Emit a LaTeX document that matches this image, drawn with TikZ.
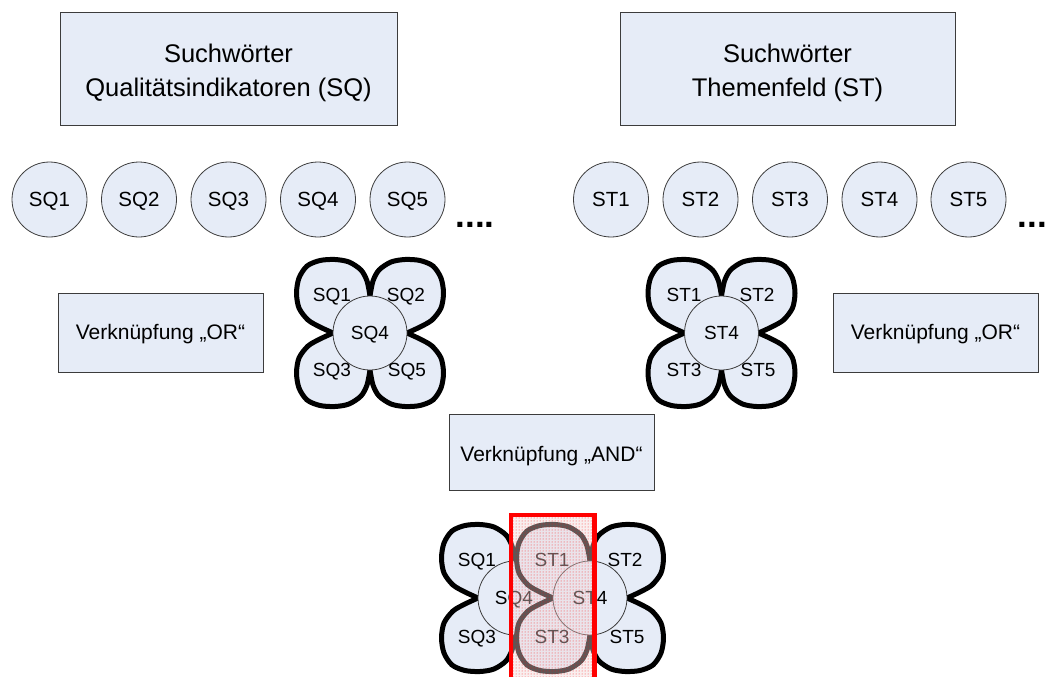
\documentclass[tikz,border=0pt]{standalone}
\usepackage{fontspec}
\setmainfont{Liberation Sans}
\usetikzlibrary{patterns}
\definecolor{boxfill}{RGB}{230,236,247}
\definecolor{boxline}{RGB}{60,60,60}
\definecolor{hazecol}{RGB}{240,215,215}
\tikzset{
  rectbox/.style={draw=boxline, fill=boxfill, line width=1pt, inner sep=0pt},
  boxtext/.style={font=\fontsize{21}{25}\selectfont, text height=15pt, text depth=0pt, inner sep=0pt},
  titletext/.style={font=\fontsize{25.5}{33}\selectfont, inner sep=0pt, anchor=base},
  rowcirc/.style={circle, draw=boxline, fill=boxfill, line width=0.8pt, minimum size=75pt, inner sep=0pt,
    font=\fontsize{20.5}{24}\selectfont, text height=14.7pt, text depth=0pt},
  midcirc/.style={circle, draw=boxline, fill=boxfill, line width=0.8pt, minimum size=74pt, inner sep=0pt,
    font=\fontsize{19}{22}\selectfont, text height=13.6pt, text depth=0pt},
  lbl/.style={font=\fontsize{19}{22}\selectfont, text height=13.6pt, text depth=0pt, inner sep=0pt},
  dotstext/.style={font=\bfseries\fontsize{35}{40}\selectfont, inner sep=0pt, anchor=base west},
  petalout/.style={draw=black, line width=5pt, line cap=round, line join=round},
  petal/.pic={
    \fill[boxfill] plot[smooth,tension=0.5] coordinates {(0,-37) (-3,-52) (-9,-63) (-21,-71) (-35,-73.5) (-50,-72.5) (-63,-67) (-71,-55) (-73.5,-40) (-71,-25) (-62,-13) (-50,-6) (-37,0)} -- cycle;
    \path[petalout] plot[smooth,tension=0.5] coordinates {(0,-37) (-3,-52) (-9,-63) (-21,-71) (-35,-73.5) (-50,-72.5) (-63,-67) (-71,-55) (-73.5,-40) (-71,-25) (-62,-13) (-50,-6) (-37,0)};
  }
}
\begin{document}
\begin{tikzpicture}[x=1pt,y=-1pt]
\useasboundingbox (0,0) rectangle (1047,677);
\fill[white] (0,0) rectangle (1047,677);
\clip (0,0) rectangle (1047,677);

% title boxes
\node[rectbox, minimum width=337pt, minimum height=112pt] (sqbox) at (228.5,69) {};
\node[titletext] (sqt1) at (228.5,63) {Suchwörter};
\node[titletext] (sqt2) at (228.5,96) {Qualitätsindikatoren (SQ)};
\node[rectbox, minimum width=335pt, minimum height=112pt] (stbox) at (787.5,69) {};
\node[titletext] (stt1) at (787.5,63) {Suchwörter};
\node[titletext] (stt2) at (787.5,96) {Themenfeld (ST)};

% rows of circles
\foreach \i/\x in {1/49.5,2/139,3/228.5,4/318,5/407.5}
  \node[rowcirc] (sq\i) at (\x,199.5) {SQ\i};
\foreach \i/\x in {1/611,2/700.5,3/790,4/879.5,5/968.5}
  \node[rowcirc] (st\i) at (\x,199.5) {ST\i};
\node[dotstext] (sqdots) at (455.5,227) {....};
\node[dotstext] (stdots) at (1017.5,227) {....};

% OR / AND boxes
\node[rectbox, minimum width=205pt, minimum height=79pt] (orl) at (160.5,332.5) {};
\node[boxtext] (orlt) at (160.5,332) {Verknüpfung „OR“};
\node[rectbox, minimum width=205pt, minimum height=79pt] (orr) at (935.5,332.5) {};
\node[boxtext] (orrt) at (935.5,332) {Verknüpfung „OR“};
\node[rectbox, minimum width=205pt, minimum height=76pt] (andb) at (551.5,452) {};
\node[boxtext] (andt) at (551.5,454) {Verknüpfung „AND“};

% SQ flower
\pic at (370,333) {petal};
\pic[xscale=-1] at (370,333) {petal};
\pic[yscale=-1] at (370,333) {petal};
\pic[scale=-1] at (370,333) {petal};
\node[midcirc] (fsq4) at (370,333) {SQ4};
\node[lbl] (fsq1) at (332,295) {SQ1};
\node[lbl] (fsq2) at (406,295) {SQ2};
\node[lbl] (fsq3) at (332,370) {SQ3};
\node[lbl] (fsq5) at (407,370) {SQ5};

% ST flower
\pic at (721.5,333) {petal};
\pic[xscale=-1] at (721.5,333) {petal};
\pic[yscale=-1] at (721.5,333) {petal};
\pic[scale=-1] at (721.5,333) {petal};
\node[midcirc] (fst4) at (721.5,333) {ST4};
\node[lbl] (fst1) at (684,295) {ST1};
\node[lbl] (fst2) at (757,295) {ST2};
\node[lbl] (fst3) at (684,370) {ST3};
\node[lbl] (fst5) at (758,370) {ST5};

% combined flower
\pic at (515,598) {petal};
\pic[yscale=-1] at (515,598) {petal};
\node[midcirc] (csq4c) at (515,598) {};
\pic at (590,598) {petal};
\pic[xscale=-1] at (590,598) {petal};
\pic[yscale=-1] at (590,598) {petal};
\pic[scale=-1] at (590,598) {petal};
\node[midcirc] (cst4c) at (590,598) {};
\node[lbl] (csq4) at (514,598) {SQ4};
\node[lbl] (cst4) at (590,598) {ST4};
\node[lbl] (csq1) at (477,560) {SQ1};
\node[lbl] (csq3) at (477,637) {SQ3};
\node[lbl] (cst1) at (552,560) {ST1};
\node[lbl] (cst2) at (625,560) {ST2};
\node[lbl] (cst3) at (552,637) {ST3};
\node[lbl] (cst5) at (627,637) {ST5};

% highlight
\fill[hazecol, fill opacity=0.4] (511,515) rectangle (594.5,690);
\fill[pattern=dots, pattern color=red, fill opacity=0.8] (511,515) rectangle (594.5,690);
\draw[red, line width=4.5pt] (511,515) rectangle (594.5,690);
\end{tikzpicture}
\end{document}
